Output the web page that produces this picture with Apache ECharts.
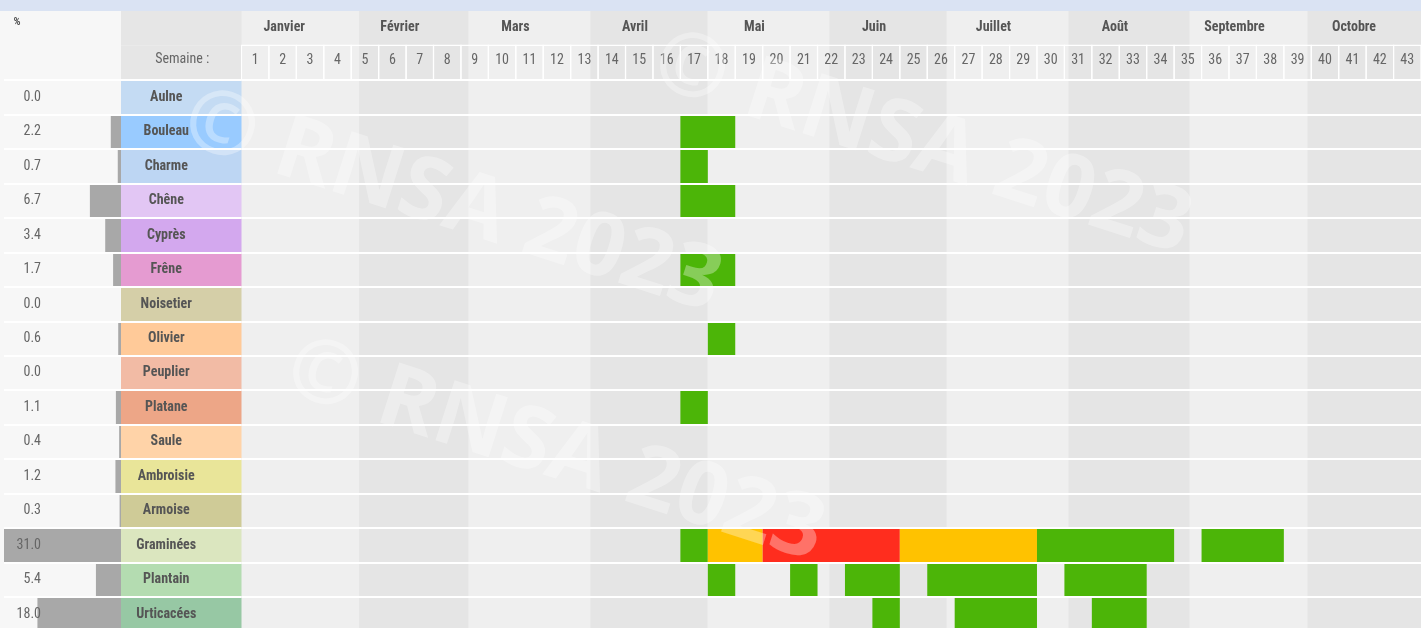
<!DOCTYPE html>
<html>
<head>
<meta charset="utf-8">
<script src="https://cdn.jsdelivr.net/npm/echarts@6/dist/echarts.min.js"></script>
<style>
html, body { margin: 0; padding: 0; background: #f7f7f7; }
#calendrier { width: 1421px; height: 628px; }
</style>
</head>
<body>
<div id="calendrier"></div>
<script>
// taxons et part (%) de chaque taxon
const taxons = ['Aulne', 'Bouleau', 'Charme', 'Chêne', 'Cyprès', 'Frêne', 'Noisetier', 'Olivier',
    'Peuplier', 'Platane', 'Saule', 'Ambroisie', 'Armoise', 'Graminées', 'Plantain', 'Urticacées'];
const pourcentages = [0.0, 2.2, 0.7, 6.7, 3.4, 1.7, 0.0, 0.6, 0.0, 1.1, 0.4, 1.2, 0.3, 31.0, 5.4, 18.0];

// mois affichés et jour de l'annee de leur 1er jour (0 = 1er janvier), dernier = 1er novembre
const mois = ['Janvier', 'Février', 'Mars', 'Avril', 'Mai', 'Juin', 'Juillet', 'Août', 'Septembre', 'Octobre'];
const debutMois = [0, 31, 59, 90, 120, 151, 181, 212, 243, 273, 304];

const semaines = [1, 2, 3, 4, 5, 6, 7, 8, 9, 10, 11, 12, 13, 14, 15, 16, 17, 18, 19, 20, 21, 22,
    23, 24, 25, 26, 27, 28, 29, 30, 31, 32, 33, 34, 35, 36, 37, 38, 39, 40, 41, 42, 43];

// [taxon, semaine debut, semaine fin, niveau de risque] (1 faible, 2 moyen, 3 eleve)
const periodes = [
    ['Bouleau', 17, 18, 1],
    ['Charme', 17, 17, 1],
    ['Chêne', 17, 18, 1],
    ['Frêne', 17, 18, 1],
    ['Olivier', 18, 18, 1],
    ['Platane', 17, 17, 1],
    ['Graminées', 17, 17, 1],
    ['Graminées', 18, 19, 2],
    ['Graminées', 20, 24, 3],
    ['Graminées', 25, 29, 2],
    ['Graminées', 30, 34, 1],
    ['Graminées', 36, 38, 1],
    ['Plantain', 18, 18, 1],
    ['Plantain', 21, 21, 1],
    ['Plantain', 23, 24, 1],
    ['Plantain', 26, 29, 1],
    ['Plantain', 31, 33, 1],
    ['Urticacées', 24, 24, 1],
    ['Urticacées', 27, 29, 1],
    ['Urticacées', 32, 33, 1]
];

// styles
const couleursTaxons = ['#c4dbf3', '#99cbff', '#bdd6f3', '#e2c6f4', '#d3a8ee', '#e59bd1', '#d5cfa8', '#ffca99',
    '#f2bba5', '#eda687', '#ffd3a8', '#e9e599', '#cfcb97', '#dbe6bf', '#b4dcb1', '#97c8a4'];
const couleursNiveaux = {1: '#4cb508', 2: '#ffc200', 3: '#ff2d1e'};
const police = "'Roboto Condensed', 'Liberation Sans Narrow', 'DejaVu Sans Condensed', sans-serif";
const filigrane = 'bold 88px "Open Sans", sans-serif';

const lignes = ['mois', 'semaine'].concat(taxons);
const HAUT = 11;
const HAUTEUR = 620.5;

function axeY(g, extra) {
    return Object.assign({
        type: 'category',
        gridIndex: g,
        data: lignes,
        inverse: true,
        z: 5,
        axisLine: {show: false},
        axisTick: {show: false},
        axisLabel: {show: false},
        splitLine: {
            show: true,
            interval: function (i) { return i >= 2; },
            lineStyle: {color: '#ffffff', width: 2}
        }
    }, extra || {});
}

const myChart = echarts.init(document.getElementById('calendrier'));

const option = {
    backgroundColor: '#f7f7f7',
    animation: false,
    textStyle: {fontFamily: police},
    grid: [
        {left: 4, width: 117, top: HAUT, height: HAUTEUR, outerBoundsMode: 'none'},
        {left: 121, width: 120.5, top: HAUT, height: HAUTEUR, outerBoundsMode: 'none'},
        {left: 241.5, width: 1179.5, top: HAUT, height: HAUTEUR, outerBoundsMode: 'none'}
    ],
    xAxis: [
        {type: 'value', gridIndex: 0, min: 0, max: 25.2, inverse: true, show: false},
        {type: 'value', gridIndex: 1, min: 0, max: 1, show: false},
        {type: 'value', gridIndex: 2, min: 0, max: 43, show: false}
    ],
    yAxis: [
        axeY(0, {
            axisLabel: {
                show: true,
                inside: true,
                interval: 0,
                align: 'right',
                margin: 37,
                color: '#666',
                fontSize: 14,
                fontFamily: police,
                formatter: function (v, i) {
                    return i >= 2 ? pourcentages[i - 2].toFixed(1) : '';
                }
            }
        }),
        axeY(1),
        axeY(2)
    ],
    series: [
        {
            type: 'bar',
            xAxisIndex: 0,
            yAxisIndex: 0,
            barWidth: '100%',
            itemStyle: {color: '#a8a8a8'},
            data: ['-', '-'].concat(pourcentages)
        },
        {
            type: 'bar',
            xAxisIndex: 1,
            yAxisIndex: 1,
            barWidth: '100%',
            label: {
                show: true,
                position: 'inside',
                offset: [-15, 0],
                color: '#555',
                fontWeight: 'bold',
                fontSize: 14,
                fontFamily: police,
                formatter: function (p) { return p.dataIndex >= 2 ? p.name : ''; }
            },
            data: [
                {value: 1, itemStyle: {color: '#e6e6e6'}},
                {value: 1, itemStyle: {color: '#e6e6e6'},
                    label: {formatter: 'Semaine :', fontWeight: 'normal', color: '#666', offset: [1, -3]}}
            ].concat(taxons.map(function (t, i) {
                return {value: 1, itemStyle: {color: couleursTaxons[i]}};
            }))
        },
        {
            // fond alterne des mois
            type: 'custom',
            xAxisIndex: 2,
            yAxisIndex: 2,
            clip: true,
            z: 1,
            silent: true,
            encode: {x: [0, 1], y: 2},
            data: mois.map(function (m, i) {
                return [(debutMois[i] - 1) / 7, (debutMois[i + 1] - 1) / 7, 'mois', i];
            }),
            renderItem: function (params, api) {
                const x0 = api.coord([api.value(0), 0])[0];
                const x1 = api.coord([api.value(1), 0])[0];
                const cs = params.coordSys;
                return {
                    type: 'rect',
                    shape: {x: x0, y: cs.y, width: x1 - x0, height: cs.height},
                    style: {fill: api.value(3) % 2 ? '#e5e5e5' : '#efefef'}
                };
            }
        },
        {
            // noms des mois
            type: 'custom',
            xAxisIndex: 2,
            yAxisIndex: 2,
            clip: true,
            z: 3,
            silent: true,
            encode: {x: 0, y: 1},
            data: mois.map(function (m, i) {
                return [((debutMois[i] + debutMois[i + 1]) / 2 - 4.6) / 7, 'mois', m];
            }),
            renderItem: function (params, api) {
                const p = api.coord([api.value(0), api.value(1)]);
                return {
                    type: 'text',
                    x: p[0],
                    y: p[1] - 1,
                    style: {
                        text: mois[params.dataIndex],
                        align: 'center',
                        verticalAlign: 'middle',
                        fill: '#555',
                        font: 'bold 14px ' + police
                    }
                };
            }
        },
        {
            // cases des semaines
            type: 'custom',
            xAxisIndex: 2,
            yAxisIndex: 2,
            clip: true,
            z: 3,
            silent: true,
            encode: {x: [0, 1], y: 2},
            data: semaines.map(function (w) { return [w - 1, w, 'semaine', w]; }),
            renderItem: function (params, api) {
                const p0 = api.coord([api.value(0), api.value(2)]);
                const p1 = api.coord([api.value(1), api.value(2)]);
                const h = api.size([0, 1])[1];
                return {
                    type: 'group',
                    children: [
                        {
                            type: 'rect',
                            shape: {x: p0[0], y: p0[1] - h / 2, width: p1[0] - p0[0], height: h},
                            style: {fill: 'none', stroke: '#ffffff', lineWidth: 1.2}
                        },
                        {
                            type: 'text',
                            x: (p0[0] + p1[0]) / 2,
                            y: p0[1] - 2,
                            style: {
                                text: String(api.value(3)),
                                align: 'center',
                                verticalAlign: 'middle',
                                fill: '#666',
                                font: '14px ' + police
                            }
                        }
                    ]
                };
            }
        },
        {
            // periodes de pollinisation
            type: 'custom',
            xAxisIndex: 2,
            yAxisIndex: 2,
            clip: true,
            z: 2,
            encode: {x: [0, 1], y: 2},
            data: periodes.map(function (d) { return [d[1] - 1, d[2], d[0], d[3]]; }),
            renderItem: function (params, api) {
                const p0 = api.coord([api.value(0), api.value(2)]);
                const p1 = api.coord([api.value(1), api.value(2)]);
                const h = api.size([0, 1])[1];
                return {
                    type: 'rect',
                    shape: {x: p0[0], y: p0[1] - h / 2, width: p1[0] - p0[0], height: h},
                    style: {fill: couleursNiveaux[api.value(3)]}
                };
            }
        }
    ],
    graphic: [
        {
            type: 'rect', z: 50, silent: true,
            shape: {x: 0, y: 0, width: 1421, height: 11},
            style: {fill: '#dae3f3'}
        },
        {
            type: 'text', z: 50, silent: true, x: 17, y: 22,
            style: {text: '%', align: 'center', verticalAlign: 'middle', fill: '#555', font: 'bold 11px ' + police}
        },
        {
            type: 'text', z: 100, silent: true, x: 452, y: 203, rotation: -0.31,
            style: {text: '© RNSA 2023', align: 'center', verticalAlign: 'middle', fill: 'rgba(255,255,255,0.33)', font: filigrane}
        },
        {
            type: 'text', z: 100, silent: true, x: 555, y: 452, rotation: -0.31,
            style: {text: '© RNSA 2023', align: 'center', verticalAlign: 'middle', fill: 'rgba(255,255,255,0.33)', font: filigrane}
        },
        {
            type: 'text', z: 100, silent: true, x: 922, y: 145, rotation: -0.31,
            style: {text: '© RNSA 2023', align: 'center', verticalAlign: 'middle', fill: 'rgba(255,255,255,0.33)', font: filigrane}
        }
    ]
};

myChart.setOption(option);
</script>
</body>
</html>
